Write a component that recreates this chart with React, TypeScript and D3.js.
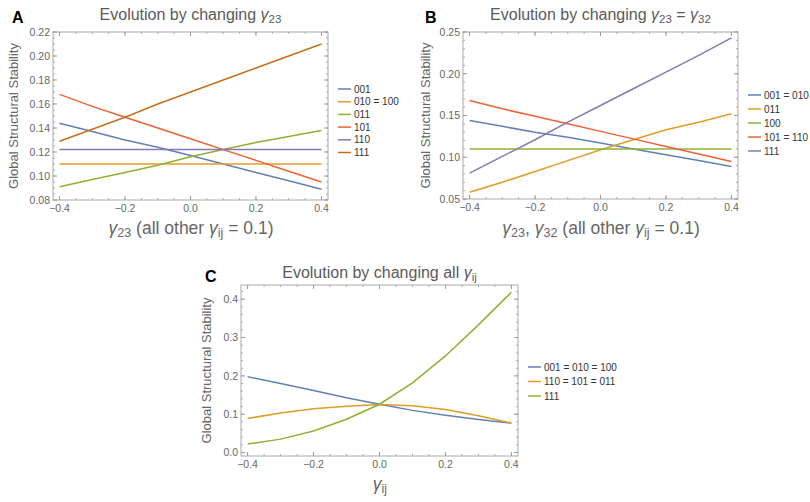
import React from 'react'
import * as d3 from 'd3'

const xs = [-0.4, -0.3, -0.2, -0.1, 0, 0.1, 0.2, 0.3, 0.4]

// panel A
const a001 = [0.144, 0.137, 0.130, 0.124, 0.117, 0.110, 0.103, 0.096, 0.089]
const a010 = [0.110, 0.110, 0.110, 0.110, 0.110, 0.110, 0.110, 0.110, 0.110]
const a011 = [0.091, 0.097, 0.103, 0.109, 0.116, 0.122, 0.128, 0.133, 0.138]
const a101 = [0.168, 0.158, 0.149, 0.140, 0.131, 0.122, 0.113, 0.104, 0.095]
const a110 = [0.122, 0.122, 0.122, 0.122, 0.122, 0.122, 0.122, 0.122, 0.122]
const a111 = [0.129, 0.139, 0.149, 0.160, 0.170, 0.180, 0.190, 0.200, 0.210]
const aNames = ['001', '010 = 100', '011', '101', '110', '111']

// panel B
const b001 = [0.144, 0.137, 0.130, 0.124, 0.117, 0.110, 0.103, 0.096, 0.089]
const b011 = [0.058, 0.070, 0.083, 0.096, 0.109, 0.121, 0.133, 0.142, 0.152]
const b100 = [0.110, 0.110, 0.110, 0.110, 0.110, 0.110, 0.110, 0.110, 0.110]
const b101 = [0.168, 0.158, 0.149, 0.140, 0.131, 0.122, 0.113, 0.104, 0.095]
const b111 = [0.081, 0.101, 0.121, 0.142, 0.162, 0.182, 0.202, 0.222, 0.243]
const bNames = ['001 = 010', '011', '100', '101 = 110', '111']

// panel C
const c001 = [0.198, 0.180, 0.162, 0.143, 0.126, 0.110, 0.097, 0.086, 0.077]
const c110 = [0.089, 0.103, 0.114, 0.121, 0.125, 0.122, 0.112, 0.096, 0.077]
const c111 = [0.022, 0.035, 0.056, 0.087, 0.126, 0.182, 0.252, 0.333, 0.418]
const cNames = ['001 = 010 = 100', '110 = 101 = 011', '111']

const xTicks = [-0.4, -0.2, 0, 0.2, 0.4]
const aYTicks = [0.08, 0.10, 0.12, 0.14, 0.16, 0.18, 0.20, 0.22]
const bYTicks = [0.05, 0.10, 0.15, 0.20, 0.25]
const cYTicks = [0, 0.1, 0.2, 0.3, 0.4]

const blue = '#5E81B5'
const orange = '#E19C24'
const green = '#8FB032'
const red = '#EB6235'
const purple = '#8778B3'
const brown = '#C56E1A'

const font = 'Liberation Sans, Arial, sans-serif'
const gray = '#666'

// italic gamma with a lowered subscript
const Gamma = ({ sub }) => (
  <>
    <tspan fontStyle="italic">γ</tspan>
    <tspan fontSize="0.72em" baselineShift="-25%">{sub}</tspan>
  </>
)

const fmtX = (v) => (v < 0 ? '\u2212' : '') + Math.abs(v).toFixed(1)

function Panel({ left, right, top, bottom, yDomain, yTicks, yFmt, yMinor, series, names, colors, legendX, legendY, legendGap, letter, letterX, letterY, title, titleY, xLabel, xLabelX, xLabelY, yLabelX }) {
  const x = d3.scaleLinear().domain([-0.42, 0.42]).range([left, right])
  const y = d3.scaleLinear().domain(yDomain).range([bottom, top])
  const line = d3.line().x((d) => x(d[0])).y((d) => y(d[1]))
  const xMinor = d3.range(-0.4, 0.4001, 0.05)
  const yStart = Math.ceil(yDomain[0] / yMinor - 1e-6) * yMinor
  const yMinTicks = d3.range(0, 200).map((i) => yStart + i * yMinor).filter((v) => v <= yDomain[1] + 1e-9)
  return (
    <g fontFamily={font}>
      <text x={letterX} y={letterY} fontSize="16" fontWeight="bold" fill="#000">{letter}</text>
      <text x={(left + right) / 2} y={titleY} fontSize="16" fill="#5a5a5a" textAnchor="middle">{title}</text>
      {series.map((s, i) => (
        <path key={i} d={line(xs.map((v, j) => [v, s[j]]))} fill="none" stroke={colors[i]} strokeWidth="1.5" />
      ))}
      <rect x={left} y={top} width={right - left} height={bottom - top} fill="none" stroke="#aaa" strokeWidth="1" />
      {xMinor.map((v, i) => (
        <g key={'xm' + i} stroke="#aaa">
          <line x1={x(v)} x2={x(v)} y1={bottom} y2={bottom - 2} />
          <line x1={x(v)} x2={x(v)} y1={top} y2={top + 2} />
        </g>
      ))}
      {yMinTicks.map((v, i) => (
        <g key={'ym' + i} stroke="#aaa">
          <line x1={left} x2={left + 2} y1={y(v)} y2={y(v)} />
          <line x1={right} x2={right - 2} y1={y(v)} y2={y(v)} />
        </g>
      ))}
      {xTicks.map((v, i) => (
        <g key={'xt' + i}>
          <line x1={x(v)} x2={x(v)} y1={bottom} y2={bottom - 4} stroke="#999" />
          <line x1={x(v)} x2={x(v)} y1={top} y2={top + 4} stroke="#999" />
          <text x={x(v)} y={bottom + 12} fontSize="10.5" fill={gray} textAnchor="middle">{fmtX(v)}</text>
        </g>
      ))}
      {yTicks.map((v, i) => (
        <g key={'yt' + i}>
          <line x1={left} x2={left + 4} y1={y(v)} y2={y(v)} stroke="#999" />
          <line x1={right} x2={right - 4} y1={y(v)} y2={y(v)} stroke="#999" />
          <text x={left - 3} y={y(v) + 3.8} fontSize="10.5" fill={gray} textAnchor="end">{yFmt(v)}</text>
        </g>
      ))}
      <text transform={`translate(${yLabelX},${(top + bottom) / 2}) rotate(-90)`} fontSize="13" fill={gray} textAnchor="middle">Global Structural Stability</text>
      <text x={xLabelX} y={xLabelY} fontSize="17.5" fill={gray} textAnchor="middle">{xLabel}</text>
      {names.map((n, i) => (
        <g key={'lg' + i}>
          <line x1={legendX} x2={legendX + 13} y1={legendY + i * legendGap} y2={legendY + i * legendGap} stroke={colors[i]} strokeWidth="1.5" />
          <text x={legendX + 16} y={legendY + i * legendGap + 3.6} fontSize="10" fill="#333">{n}</text>
        </g>
      ))}
    </g>
  )
}

export default function App() {
  return (
    <svg width={810} height={502} style={{ position: 'absolute', left: 0, top: 0, background: '#fff' }}>
      <Panel
        left={53} right={328} top={32} bottom={200}
        yDomain={[0.08, 0.22]} yTicks={aYTicks} yFmt={(v) => v.toFixed(2)} yMinor={0.005}
        series={[a001, a010, a011, a101, a110, a111]} names={aNames}
        colors={[blue, orange, green, red, purple, brown]}
        legendX={338} legendY={89} legendGap={12.7}
        letter="A" letterX={12} letterY={23}
        title={<>Evolution by changing <Gamma sub="23" /></>} titleY={20}
        xLabel={<><Gamma sub="23" /> (all other <Gamma sub="ij" /> = 0.1)</>}
        xLabelX={191} xLabelY={234} yLabelX={18}
      />
      <Panel
        left={463} right={738} top={32} bottom={199}
        yDomain={[0.05, 0.25]} yTicks={bYTicks} yFmt={(v) => v.toFixed(2)} yMinor={0.01}
        series={[b001, b011, b100, b101, b111]} names={bNames}
        colors={[blue, orange, green, red, purple]}
        legendX={748} legendY={95} legendGap={14}
        letter="B" letterX={425} letterY={23}
        title={<>Evolution by changing <Gamma sub="23" /> = <Gamma sub="32" /></>} titleY={20}
        xLabel={<><Gamma sub="23" />, <Gamma sub="32" /> (all other <Gamma sub="ij" /> = 0.1)</>}
        xLabelX={601} xLabelY={234} yLabelX={430}
      />
      <Panel
        left={241} right={518} top={285} bottom={456}
        yDomain={[-0.009, 0.437]} yTicks={cYTicks} yFmt={(v) => v.toFixed(1)} yMinor={0.02}
        series={[c001, c110, c111]} names={cNames}
        colors={[blue, orange, green]}
        legendX={528} legendY={367} legendGap={14.5}
        letter="C" letterX={205} letterY={282}
        title={<>Evolution by changing all <Gamma sub="ij" /></>} titleY={278}
        xLabel={<Gamma sub="ij" />}
        xLabelX={380} xLabelY={490} yLabelX={211}
      />
    </svg>
  )
}
